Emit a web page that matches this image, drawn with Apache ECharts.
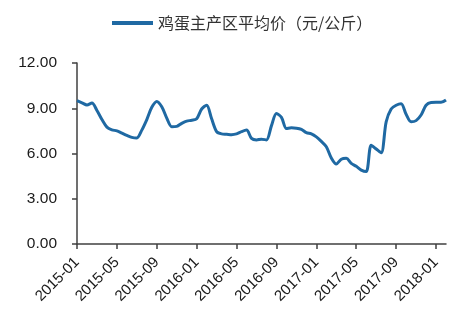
<!DOCTYPE html>
<html>
<head>
<meta charset="utf-8">
<script src="https://cdn.jsdelivr.net/npm/echarts@6/dist/echarts.min.js"></script>
<style>html,body{margin:0;padding:0;background:#fff;}#c{width:458px;height:324px;}</style>
</head>
<body>
<div id="c"></div>
<script>
const seriesName = '鸡蛋主产区平均价（元/公斤）';
const dates = [
 '2015-01-01','2015-01-16','2015-02-01','2015-02-16','2015-03-01','2015-03-16','2015-04-01','2015-04-16',
 '2015-05-01','2015-05-16','2015-06-01','2015-06-16','2015-07-01','2015-07-16','2015-08-01','2015-08-16',
 '2015-09-01','2015-09-16','2015-10-01','2015-10-16','2015-11-01','2015-11-16','2015-12-01','2015-12-16',
 '2016-01-01','2016-01-16','2016-02-01','2016-02-16','2016-03-01','2016-03-16','2016-04-01','2016-04-16',
 '2016-05-01','2016-05-16','2016-06-01','2016-06-16','2016-07-01','2016-07-16','2016-08-01','2016-08-16',
 '2016-09-01','2016-09-16','2016-10-01','2016-10-16','2016-11-01','2016-11-16','2016-12-01','2016-12-16',
 '2017-01-01','2017-01-16','2017-02-01','2017-02-16','2017-03-01','2017-03-16','2017-04-01','2017-04-16',
 '2017-05-01','2017-05-16','2017-06-01','2017-06-16','2017-07-01','2017-07-16','2017-08-01','2017-08-16',
 '2017-09-01','2017-09-16','2017-10-01','2017-10-16','2017-11-01','2017-11-16','2017-12-01','2017-12-16',
 '2018-01-01','2018-01-16','2018-02-01'
];
const prices = [
 9.50, 9.36, 9.22, 9.35, 8.85, 8.25, 7.75, 7.57,
 7.50, 7.35, 7.20, 7.07, 7.03, 7.55, 8.25, 9.06,
 9.45, 9.10, 8.35, 7.78, 7.80, 8.00, 8.15, 8.20,
 8.30, 8.95, 9.20, 8.30, 7.45, 7.30, 7.28, 7.25,
 7.30, 7.45, 7.55, 7.00, 6.90, 6.95, 6.90, 7.85,
 8.65, 8.40, 7.65, 7.70, 7.68, 7.60, 7.38, 7.30,
 7.10, 6.80, 6.45, 5.70, 5.30, 5.62, 5.68, 5.35,
 5.15, 4.90, 4.80, 6.55, 6.30, 6.05, 8.10, 8.95,
 9.20, 9.30, 8.60, 8.10, 8.18, 8.55, 9.20, 9.38,
 9.39, 9.39, 9.55
];
const tickLabels = ['2015-01','2015-05','2015-09','2016-01','2016-05','2016-09','2017-01','2017-05','2017-09','2018-01'];
const yTicks = [0, 3, 6, 9, 12];

const chart = echarts.init(document.getElementById('c'));
const axisColor = '#404040';
const showTick = (idx) => tickLabels.indexOf(dates[idx].slice(0, 7)) >= 0 && dates[idx].slice(8) === '01';
chart.setOption({
  animation: false,
  legend: {
    data: [seriesName],
    left: 107, top: 10,
    icon: 'rect', itemWidth: 41, itemHeight: 4,
    textStyle: { fontFamily: 'Noto Sans CJK SC', fontSize: 16, color: '#333' }
  },
  grid: { left: 77, right: 12, top: 63, bottom: 80 },
  xAxis: {
    type: 'category', data: dates, boundaryGap: false,
    axisLine: { lineStyle: { color: axisColor, width: 1.5 } },
    axisTick: { interval: showTick, length: 5, lineStyle: { color: axisColor, width: 1.5 } },
    axisLabel: {
      interval: showTick, rotate: 45, margin: 16,
      formatter: (v) => v.slice(0, 7),
      fontFamily: 'Liberation Sans', fontSize: 15, color: '#1a1a1a'
    }
  },
  yAxis: {
    type: 'value', min: yTicks[0], max: yTicks[yTicks.length - 1], interval: 3,
    splitLine: { show: false },
    axisLine: { show: true, lineStyle: { color: axisColor, width: 1.5 } },
    axisTick: { show: true, length: 5, lineStyle: { color: axisColor, width: 1.5 } },
    axisLabel: {
      margin: 20, formatter: (v) => v.toFixed(2),
      fontFamily: 'Liberation Sans', fontSize: 15.5, color: '#1a1a1a'
    }
  },
  series: [{
    name: seriesName, type: 'line', data: prices,
    smooth: 0.3, showSymbol: false, symbol: 'none',
    lineStyle: { color: '#1f69a3', width: 3 },
    itemStyle: { color: '#1f69a3' }
  }]
});
</script>
</body>
</html>
